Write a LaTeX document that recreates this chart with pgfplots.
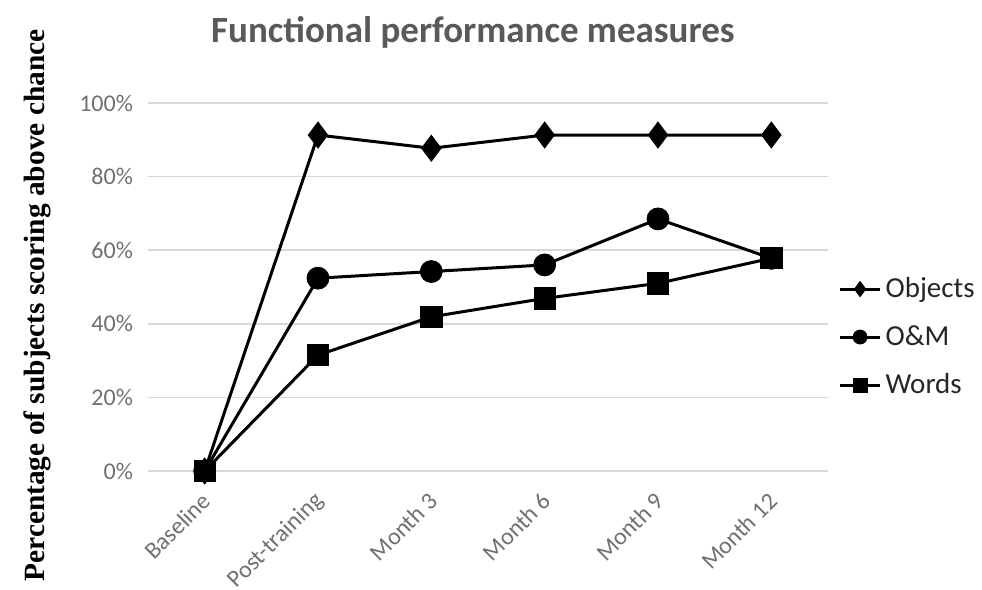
\documentclass[border=0pt]{standalone}
\usepackage{fontspec}
\setmainfont{Carlito}
\newfontfamily\timesfont{Liberation Serif}
\usepackage{pgfplots}
\pgfplotsset{compat=1.18}
\definecolor{gridgray}{HTML}{D9D9D9}
\definecolor{ticktext}{HTML}{707070}
\definecolor{titletext}{HTML}{595959}
\definecolor{legtext}{HTML}{262626}

\begin{document}
\begin{tikzpicture}
\path[use as bounding box] (-74pt,-59.5pt) rectangle (417pt,235.5pt);
\begin{axis}[
  scale only axis, width=340pt, height=184pt,
  xmin=-0.5, xmax=5.5, ymin=0, ymax=100,
  clip=false,
  xtick={0,...,5},
  xticklabels={Baseline, Post-training, Month 3, Month 6, Month 9, Month 12},
  ytick={0,20,...,100},
  yticklabel={\pgfmathprintnumber{\tick}\%},
  /pgf/number format/assume math mode=true,
  axis line style={draw=none},
  tick style={draw=none},
  ymajorgrids, grid style={gridgray, line width=0.8pt},
  yticklabel style={font=\fontsize{12}{14}\selectfont, text=ticktext, xshift=-4pt},
  xticklabel shift=13pt,
  xticklabel style={font=\fontsize{12}{14}\selectfont, text=ticktext, inner sep=0pt, xshift=1pt, rotate=45, anchor=east},
  ylabel={Percentage of subjects scoring above chance},
  ylabel style={font=\timesfont\bfseries\fontsize{14.7}{17}\selectfont, at={(axis description cs:-0.162,0.45)}, anchor=center},
  legend style={at={(1.015,0.364)}, anchor=west, draw=none, fill=none,
    font=\fontsize{14.5}{17}\selectfont, text=legtext, row sep=8.5pt, inner sep=0pt,
    /tikz/every even column/.append style={column sep=1pt}},
  legend cell align=left,
  legend image code/.code={\draw[mark repeat=2, mark phase=2, #1] plot coordinates {(0pt,0pt) (10pt,0pt) (20pt,0pt)};},
  every axis plot/.append style={black, line width=1.5pt, mark options={solid, line width=0.4pt}},
]
\addplot[mark=diamond*, mark size=6.5pt, legend image post style={mark size=3.8pt}]
  coordinates {(0,0) (1,91.3) (2,87.7) (3,91.3) (4,91.3) (5,91.3)};
\addplot[mark=*, mark size=5.5pt, legend image post style={mark size=3.5pt}]
  coordinates {(0,0) (1,52.4) (2,54.2) (3,56.0) (4,68.5) (5,57.8)};
\addplot[mark=square*, mark size=5.3pt, legend image post style={mark size=3.5pt}]
  coordinates {(0,0) (1,31.5) (2,41.9) (3,46.9) (4,51.0) (5,57.8)};
\legend{Objects, O\&M, Words}
\end{axis}
\node[anchor=base, font=\bfseries\fontsize{18.5}{22}\selectfont, text=titletext] at (162.5pt,214pt) {Functional performance measures};
\end{tikzpicture}
\end{document}
